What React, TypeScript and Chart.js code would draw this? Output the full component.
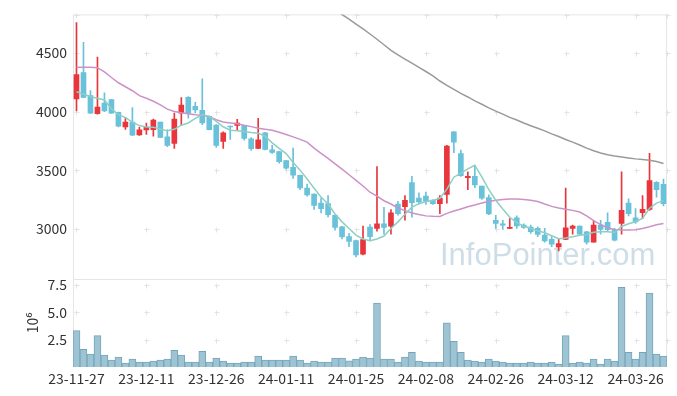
import React, { useEffect, useRef } from 'react';
import { Chart, registerables } from 'chart.js';

Chart.register(...registerables);

const dates = [
  '23-11-27', '23-11-28', '23-11-29', '23-11-30',
  '23-12-01', '23-12-04', '23-12-05', '23-12-06', '23-12-07', '23-12-08', '23-12-11', '23-12-12', '23-12-13', '23-12-14',
  '23-12-15', '23-12-18', '23-12-19', '23-12-20', '23-12-21', '23-12-22', '23-12-26', '23-12-27', '23-12-28',
  '24-01-02', '24-01-03', '24-01-04', '24-01-05', '24-01-08', '24-01-09', '24-01-10', '24-01-11', '24-01-12', '24-01-15',
  '24-01-16', '24-01-17', '24-01-18', '24-01-19', '24-01-22', '24-01-23', '24-01-24', '24-01-25', '24-01-26', '24-01-29',
  '24-01-30', '24-01-31',
  '24-02-01', '24-02-02', '24-02-05', '24-02-06', '24-02-07', '24-02-08', '24-02-13', '24-02-14', '24-02-15', '24-02-16',
  '24-02-19', '24-02-20', '24-02-21', '24-02-22', '24-02-23', '24-02-26', '24-02-27', '24-02-28', '24-02-29',
  '24-03-04', '24-03-05', '24-03-06', '24-03-07', '24-03-08', '24-03-11', '24-03-12', '24-03-13', '24-03-14', '24-03-15',
  '24-03-18', '24-03-19', '24-03-20', '24-03-21', '24-03-22', '24-03-25', '24-03-26', '24-03-27', '24-03-28', '24-03-29',
  '24-04-01',
];

const openP = [
  4109, 4334, 4137, 3983, 4073, 4103, 3994, 3870, 3912, 3803,
  3845, 3848, 3912, 3786, 3730, 3988, 4123, 4047, 4011, 3960,
  3887, 3747, 3876, 3884, 3881, 3769, 3688, 3820, 3676, 3660,
  3584, 3527, 3457, 3350, 3297, 3221, 3216, 3117, 3019, 2935,
  2901, 2786, 3016, 3005, 3044, 3025, 3213, 3190, 3395, 3263,
  3280, 3246, 3216, 3294, 3828, 3643, 3438, 3449, 3365, 3269,
  3075, 3044, 3005, 3095, 3033, 3016, 3005, 2949, 2912, 2847,
  2912, 3005, 3025, 2977, 2887, 3033, 3058, 2997, 3047, 3221,
  3095, 3140, 3168, 3398, 3381,
];

const closeP = [
  4317, 4123, 3988, 4039, 4008, 3988, 3876, 3912, 3800, 3845,
  3870, 3929, 3780, 3713, 3938, 4056, 3988, 4016, 3904, 3848,
  3713, 3820, 3870, 3904, 3772, 3685, 3761, 3679, 3654, 3575,
  3519, 3460, 3350, 3291, 3201, 3173, 3123, 3013, 2932, 2895,
  2780, 2909, 2935, 3044, 3013, 3137, 3131, 3244, 3224, 3230,
  3238, 3216, 3263, 3707, 3741, 3454, 3449, 3376, 3263, 3128,
  3047, 3033, 3010, 3027, 3013, 2977, 2954, 2898, 2870, 2876,
  3010, 3025, 2957, 2887, 3033, 2997, 2994, 2904, 3159, 3131,
  3061, 3168, 3412, 3336, 3216,
];

const highP = [
  4761, 4592, 4180, 4466, 4162, 4105, 3998, 3952, 4036, 3870,
  3904, 3938, 3912, 3848, 3988, 4120, 4130, 4081, 4280, 3965,
  3890, 3828, 3878, 3935, 3884, 3780, 3943, 3825, 3713, 3662,
  3586, 3690, 3460, 3384, 3300, 3263, 3286, 3120, 3022, 2963,
  2905, 3025, 3038, 3533, 3185, 3165, 3235, 3286, 3449, 3308,
  3314, 3248, 3286, 3713, 3830, 3674, 3488, 3544, 3367, 3291,
  3117, 3075, 3089, 3112, 3044, 3033, 3019, 3005, 2935, 2915,
  3348, 3033, 3028, 2980, 3070, 3075, 3137, 3005, 3488, 3258,
  3174, 3286, 3646, 3404, 3426,
];

const lowP = [
  4008, 4120, 3985, 3980, 4000, 3985, 3870, 3850, 3795, 3797,
  3806, 3792, 3778, 3702, 3688, 3890, 3946, 3990, 3890, 3845,
  3696, 3688, 3764, 3848, 3758, 3671, 3685, 3675, 3645, 3561,
  3511, 3432, 3336, 3280, 3168, 3137, 3103, 2991, 2915, 2850,
  2763, 2780, 2898, 2982, 2957, 2957, 3117, 3075, 3100, 3213,
  3210, 3210, 3131, 3221, 3651, 3449, 3336, 3353, 3252, 3123,
  3005, 2996, 3003, 3005, 3005, 2963, 2935, 2887, 2850, 2814,
  2910, 2957, 2950, 2870, 2887, 2957, 2977, 2898, 2957, 3112,
  3047, 3089, 3159, 3272, 3196,
];

// volume in millions of shares
const volume = [
  3.32, 1.62, 1.17, 2.87, 1.08, 0.63, 0.90, 0.36, 0.72, 0.45,
  0.45, 0.54, 0.63, 0.72, 1.53, 1.08, 0.45, 0.45, 1.44, 0.45,
  0.81, 0.54, 0.36, 0.36, 0.45, 0.45, 0.99, 0.63, 0.63, 0.63,
  0.63, 0.99, 0.63, 0.36, 0.54, 0.45, 0.45, 0.81, 0.81, 0.57,
  0.72, 0.90, 0.81, 5.84, 0.72, 0.72, 0.45, 0.90, 1.35, 0.54,
  0.45, 0.45, 0.45, 4.04, 2.34, 1.35, 0.63, 0.54, 0.45, 0.72,
  0.54, 0.45, 0.36, 0.36, 0.36, 0.45, 0.36, 0.36, 0.45, 0.27,
  2.87, 0.36, 0.45, 0.36, 0.72, 0.27, 0.72, 0.54, 7.28, 1.35,
  0.72, 1.35, 6.74, 1.17, 0.99,
];

const maShort = [
  4171, 4151, 4129, 4115, 4100, 4025, 3976, 3950, 3912, 3882,
  3870, 3867, 3853, 3837, 3850, 3885, 3904, 3944, 3976, 3960,
  3918, 3872, 3842, 3838, 3831, 3823, 3817, 3792, 3735, 3688,
  3643, 3567, 3502, 3426, 3348, 3272, 3213, 3128, 3061, 3005,
  2948, 2915, 2900, 2915, 2940, 3005, 3061, 3126, 3187, 3216,
  3235, 3244, 3262, 3340, 3442, 3477, 3513, 3544, 3445, 3336,
  3245, 3170, 3100, 3055, 3025, 3005, 2985, 2968, 2943, 2918,
  2923, 2934, 2947, 2953, 2972, 2976, 2976, 2970, 3022, 3045,
  3062, 3090, 3177, 3221, 3242,
];

const maMid = [
  4379, 4379, 4379, 4376, 4340, 4292, 4247, 4213, 4179, 4137,
  4115, 4089, 4059, 4022, 4002, 3991, 3983, 3974, 3969, 3957,
  3932, 3912, 3904, 3897, 3884, 3873, 3859, 3850, 3842, 3825,
  3806, 3786, 3764, 3741, 3690, 3645, 3603, 3556, 3511, 3463,
  3415, 3367, 3314, 3280, 3241, 3213, 3179, 3157, 3137, 3123,
  3112, 3108, 3107, 3133, 3153, 3171, 3190, 3204, 3221, 3235,
  3246, 3252, 3255, 3255, 3252, 3246, 3235, 3213, 3193, 3179,
  3168, 3159, 3145, 3112, 3072, 3038, 3010, 2996, 2991, 2991,
  2994, 3005, 3019, 3036, 3047,
];

const maLong = [
  null, null, null, null, null, null, null, null, null, null,
  null, null, null, null, null, null, null, null, null, null,
  null, null, null, null, null, null, null, null, null, null,
  null, null, null, null, null, 4950, 4910, 4871, 4829, 4789,
  4748, 4706, 4663, 4618, 4571, 4524, 4485, 4449, 4414, 4378,
  4343, 4306, 4262, 4225, 4190, 4157, 4126, 4092, 4064, 4033,
  4005, 3980, 3952, 3929, 3904, 3881, 3859, 3837, 3811, 3789,
  3763, 3741, 3716, 3690, 3668, 3648, 3634, 3623, 3615, 3606,
  3598, 3592, 3586, 3575, 3558,
];

const priceTicks = [3000, 3500, 4000, 4500];
const volumeTicks = [2.5, 5, 7.5];

const UP = '#e8363c';
const DOWN = '#6ac2da';
const FONT = '"Noto Sans CJK KR", "Noto Sans", sans-serif';
const TEXT = '#333333';

const decorPlugin = {
  id: 'decor',
  beforeDatasetsDraw(chart: any) {
    const { ctx, chartArea } = chart;
    const { left, right, top, bottom } = chartArea;
    const xs = chart.scales.x;
    const ys = chart.scales.y;
    const yv = chart.scales.yv;
    ctx.save();
    // watermark
    ctx.font = '31px "Liberation Sans"';
    ctx.fillStyle = '#cedee8';
    ctx.textAlign = 'left';
    ctx.textBaseline = 'alphabetic';
    ctx.fillText('InfoPointer.com', 440, 265);
    // frame
    ctx.strokeStyle = '#e6e6e6';
    ctx.lineWidth = 1;
    ctx.beginPath();
    ctx.moveTo(left + 0.5, top);
    ctx.lineTo(left + 0.5, bottom);
    ctx.moveTo(left, top + 0.5);
    ctx.lineTo(right, top + 0.5);
    ctx.moveTo(right - 0.5, top);
    ctx.lineTo(right - 0.5, bottom);
    ctx.moveTo(left, Math.round(ys.bottom) + 0.5);
    ctx.lineTo(right, Math.round(ys.bottom) + 0.5);
    ctx.stroke();
    // grid crosses
    const px: number[] = [];
    dates.forEach((_, i) => { if (i % 10 === 0) px.push(xs.getPixelForValue(i)); });
    px.push(right - 0.5);
    const py: number[] = [top + 0.5];
    priceTicks.forEach((v) => py.push(ys.getPixelForValue(v)));
    volumeTicks.forEach((v) => py.push(yv.getPixelForValue(v)));
    ctx.strokeStyle = '#e3e3e3';
    ctx.beginPath();
    px.forEach((x) => {
      const X = Math.round(x) + 0.5;
      py.forEach((y) => {
        const Y = Math.round(y) + 0.5;
        ctx.moveTo(X - 2, Y);
        ctx.lineTo(X + 3, Y);
        ctx.moveTo(X, Y - 2);
        ctx.lineTo(X, Y + 3);
      });
    });
    ctx.stroke();
    ctx.restore();
  },
};

export default function App() {
  const ref = useRef<HTMLCanvasElement>(null);
  useEffect(() => {
    const colors = closeP.map((c, i) => (c >= openP[i] ? UP : DOWN));
    const chart = new Chart(ref.current as HTMLCanvasElement, {
      type: 'bar',
      data: {
        labels: dates,
        datasets: [
          {
            type: 'line', label: 'MA5', data: maShort, borderColor: '#8dcfc4', borderWidth: 1.5,
            pointRadius: 0, yAxisID: 'y', order: 1,
          } as any,
          {
            type: 'line', label: 'MA20', data: maMid, borderColor: '#cc92c8', borderWidth: 1.5,
            pointRadius: 0, yAxisID: 'y', order: 1,
          } as any,
          {
            type: 'line', label: 'MA120', data: maLong, borderColor: '#9a9a9a', borderWidth: 1.5,
            pointRadius: 0, yAxisID: 'y', order: 1,
          } as any,
          {
            type: 'bar', label: 'body', data: openP.map((o, i) => [o, closeP[i]]), backgroundColor: colors,
            barThickness: 5, grouped: false, minBarLength: 1, yAxisID: 'y', order: 2,
          } as any,
          {
            type: 'bar', label: 'wick', data: lowP.map((l, i) => [l, highP[i]]), backgroundColor: colors,
            barThickness: 1, grouped: false, yAxisID: 'y', order: 3,
          } as any,
          {
            type: 'bar', label: 'volume', data: volume, backgroundColor: '#9ec3d3', borderColor: '#74a6bb',
            borderWidth: 1, barPercentage: 1, categoryPercentage: 1, grouped: false, yAxisID: 'yv', order: 4,
          } as any,
        ],
      },
      options: {
        animation: false,
        responsive: true,
        maintainAspectRatio: false,
        layout: { padding: { left: 0, right: 10, top: 10, bottom: 0 } },
        plugins: { legend: { display: false }, tooltip: { enabled: false } },
        scales: {
          x: {
            type: 'category',
            offset: true,
            grid: { display: false, drawTicks: false },
            border: { display: false },
            ticks: {
              autoSkip: false, maxRotation: 0, minRotation: 0, padding: 3, color: TEXT,
              font: { family: FONT, size: 14 },
              callback: (_v: any, i: number) => (i % 10 === 0 ? dates[i] : ''),
            },
            afterFit: (s: any) => { s.height = 29; },
          },
          yv: {
            type: 'linear', position: 'left', stack: 'panes', stackWeight: 1, min: 0, max: 8.05,
            grid: { display: false, drawTicks: false },
            border: { display: false },
            afterBuildTicks: (s: any) => { s.ticks = volumeTicks.map((value) => ({ value })); },
            ticks: {
              padding: 6, color: TEXT, font: { family: FONT, size: 14 },
              callback: (v: any) => Number(v).toFixed(1),
            },
            title: {
              display: true, text: '10⁶', color: TEXT, font: { family: FONT, size: 14 },
              padding: { top: 24, bottom: 0 },
            },
            afterFit: (s: any) => { s.width = 73; },
          },
          y: {
            type: 'linear', position: 'left', stack: 'panes', stackWeight: 3, min: 2575, max: 4830,
            grid: { display: false, drawTicks: false },
            border: { display: false },
            afterBuildTicks: (s: any) => { s.ticks = priceTicks.map((value) => ({ value })); },
            ticks: {
              padding: 6, color: TEXT, font: { family: FONT, size: 14 },
              callback: (v: any) => String(v),
            },
            afterFit: (s: any) => { s.width = 73; },
          },
        },
      } as any,
      plugins: [decorPlugin],
    });
    return () => chart.destroy();
  }, []);
  return (
    <div style={{ position: 'absolute', left: 0, top: 0, width: 677, height: 396, background: '#fff' }}>
      <canvas ref={ref} />
    </div>
  );
}
